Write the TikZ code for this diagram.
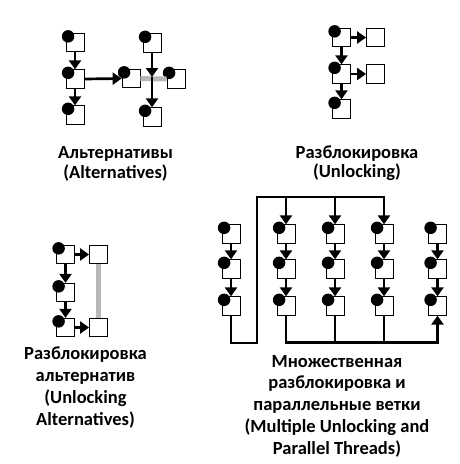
\documentclass[tikz,border=0pt]{standalone}
\usepackage{fontspec}
\setmainfont{Carlito}
\usetikzlibrary{arrows.meta}
\tikzset{
  cell/.style={draw, line width=0.8pt, minimum width=18pt, minimum height=18.5pt, inner sep=0pt, fill=white},
  dotc/.style={fill=black, circle, inner sep=0pt, minimum size=12.5pt},
  flow/.style={line width=2.7pt, -{Triangle[width=12pt,length=9pt]}},
  link/.style={line width=2.7pt},
  grayb/.style={line width=5pt, draw=black!28},
  lbl/.style={font=\bfseries\fontsize{18.5}{19.5}\selectfont, align=center, inner sep=0pt},
  lblw/.style={font=\bfseries\fontsize{18.5}{21.8}\selectfont, align=center, inner sep=0pt},
}
\newcommand\dcell[2]{\node[cell] (#1) at (#2) {};\node[dotc] (#1d) at ([shift={(2.5,3.5)}]#1.north west) {};}
\newcommand\pcell[2]{\node[cell] (#1) at (#2) {};}
\begin{document}
\begin{tikzpicture}[x=1pt,y=-1pt]
\useasboundingbox (0,0) rectangle (459,464);
% ---------- Alternatives
\dcell{a1}{75,42.5}
\dcell{a2}{75,79}
\dcell{a3}{75,115}
\dcell{am}{131,78.5}
\dcell{at}{152,43}
\dcell{ar}{176,79}
\dcell{ab}{152,117}
\coordinate (ax) at (152,77);
\draw[grayb] (am.east) -- (ar.west);
\draw[flow] (a1) -- (a2);
\draw[flow] (a2) -- (a3);
\draw[flow] (a2.east) -- (am.west);
\draw[flow] (at.south) -- (ax);
\draw[flow] (ax) -- (ab.north);
\node[lbl] (la) at (115.5,164) {Альтернативы\\(Alternatives)};
% ---------- Unlocking
\dcell{b1}{341.5,37.5}
\dcell{b2}{341.5,74}
\dcell{b3}{341.5,109}
\pcell{br1}{375.5,37.5}
\pcell{br2}{375.5,74}
\draw[flow] (b1) -- (b2);
\draw[flow] (b2) -- (b3);
\draw[flow] (b1) -- (br1);
\draw[flow] (b2) -- (br2);
\node[lbl] (lb) at (357,163) {Разблокировка\\(Unlocking)};
% ---------- Unlocking alternatives
\dcell{c1}{65.5,254.5}
\dcell{c2}{65.5,292.5}
\dcell{c3}{65.5,327.5}
\pcell{cr1}{98.5,254.5}
\pcell{cr2}{98.5,327.5}
\draw[grayb] (cr1.south) -- (cr2.north);
\draw[flow] (c1) -- (c2);
\draw[flow] (c2) -- (c3);
\draw[flow] (c1) -- (cr1);
\draw[flow] (c3) -- (cr2);
\node[lblw] (lc) at (85.5,387.5) {Разблокировка\\альтернатив\\(Unlocking\\Alternatives)};
% ---------- Multiple unlocking
\foreach \c/\x in {1/231,2/286,3/335,4/384,5/437.5}{
  \dcell{d\c1}{\x,234}
  \dcell{d\c2}{\x,269}
  \dcell{d\c3}{\x,306}
  \draw[flow] (d\c1) -- (d\c2);
  \draw[flow] (d\c2) -- (d\c3);
}
\coordinate (p2) at (257,343);
\coordinate (p3) at (257,197);
\coordinate (q) at (0,342.5);
\draw[flow] (d13.south) |- (p2) -- (p3) -| (d41.north);
\draw[flow] (d21.north |- p3) -- (d21.north);
\draw[flow] (d31.north |- p3) -- (d31.north);
\draw[flow] (d23.south) |- (q -| d53) -- (d53.south);
\draw[link] (d33.south) -- (d33.south |- q);
\draw[link] (d43.south) -- (d43.south |- q);
\node[lblw] (ld) at (337,406) {Множественная\\разблокировка и\\параллельные ветки\\(Multiple Unlocking and\\Parallel Threads)};
\end{tikzpicture}
\end{document}
